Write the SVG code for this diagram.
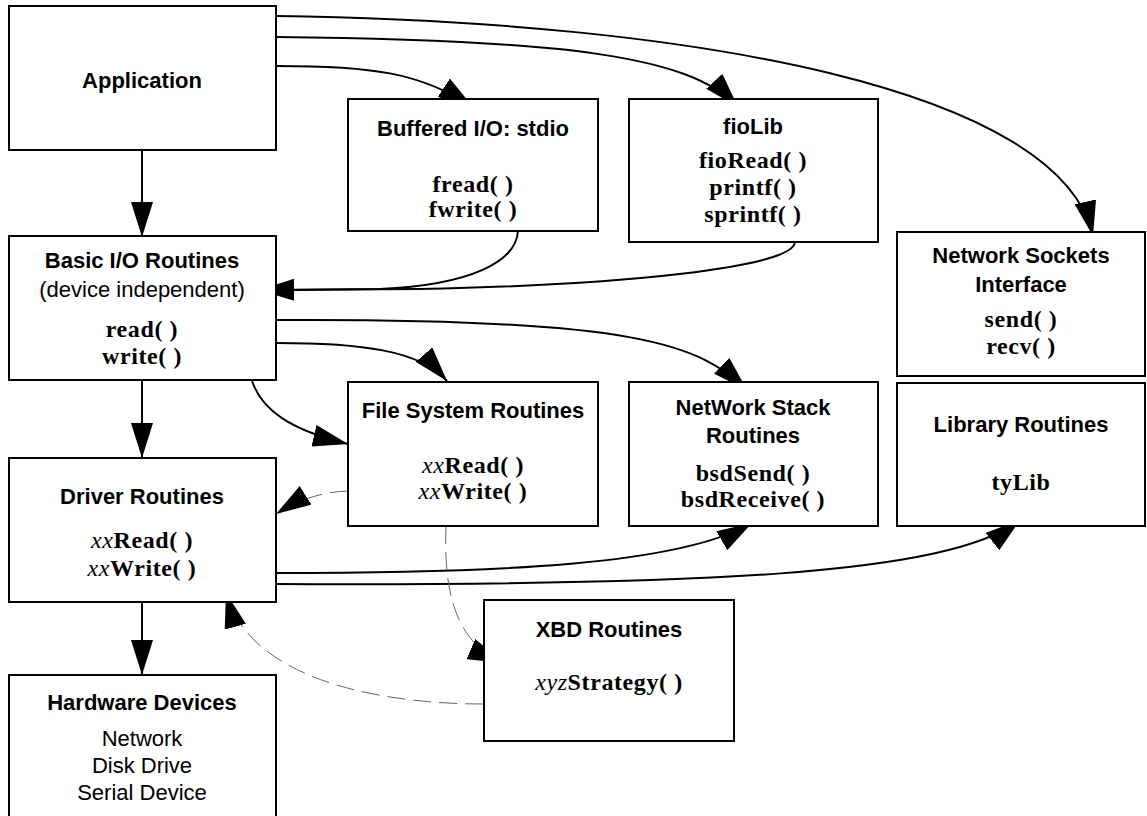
<svg xmlns="http://www.w3.org/2000/svg" width="1147" height="816" viewBox="0 0 1147 816">
  <style>
    .box { fill: #ffffff; stroke: #000000; stroke-width: 2; }
    .hd { font-family: "Liberation Sans", Arial, sans-serif; font-weight: bold; font-size: 22px; text-anchor: middle; fill: #000; }
    .rg { font-family: "Liberation Sans", Arial, sans-serif; font-size: 22px; text-anchor: middle; fill: #000; }
    .fn { font-family: "Liberation Serif", "Times New Roman", serif; font-weight: bold; font-size: 24px; letter-spacing: 0.6px; text-anchor: middle; fill: #000; }
    .it { font-style: italic; font-weight: normal; }
    .link { fill: none; stroke: #000000; stroke-width: 2; marker-end: url(#head); }
    .dash { fill: none; stroke: #666666; stroke-width: 1; stroke-dasharray: 18 8; marker-end: url(#head); }
  </style>
  <defs>
    <marker id="head" markerUnits="userSpaceOnUse" markerWidth="36" markerHeight="22" refX="35" refY="11" orient="auto">
      <path d="M0,0 L35,11 L0,22 z" fill="#000000"/>
    </marker>
  </defs>

  <rect width="1147" height="816" fill="#ffffff"/>

  <g id="connectors">
    <!-- vertical stack -->
    <path class="link" d="M142,150 L142,237"/>
    <path class="link" d="M142,380 L142,458"/>
    <path class="link" d="M142,602 L142,675"/>
    <!-- Application to libraries -->
    <path class="link" d="M276,66 C370,66 420,72 473,107"/>
    <path class="link" d="M276,37 C560,40 690,55 738,107"/>
    <path class="link" d="M276,16 C700,22 1060,90 1093,236"/>
    <!-- stdio and fioLib back into Basic I/O -->
    <path fill="none" stroke="#000" stroke-width="2" d="M518,231 C516,262 470,285 380,289 L290,290"/>
    <path class="link" d="M795,242 C793,268 620,285 420,289 L259,290"/>
    <!-- Basic I/O outward -->
    <path class="link" d="M276,320 C640,318 700,345 747,390"/>
    <path class="link" d="M276,343 C360,343 420,350 447,381"/>
    <path class="link" d="M252,381 C262,410 290,430 348,444"/>
    <!-- Driver outward -->
    <path class="link" d="M276,573 C500,573 680,565 752,523"/>
    <path class="link" d="M276,584 C700,586 950,575 1020,520"/>
    <!-- dashed block paths -->
    <path class="dash" d="M348,491 C318,492 295,502 276,514"/>
    <path class="dash" d="M446,526 C444,580 450,640 503,663"/>
    <path class="dash" d="M483,704 C380,704 250,680 226,593"/>
  </g>

  <g id="application">
    <rect class="box" x="9" y="6" width="267" height="144"/>
    <text class="hd" x="142" y="88">Application</text>
  </g>

  <g id="stdio">
    <rect class="box" x="348" y="99" width="250" height="132"/>
    <text class="hd" x="473" y="136">Buffered I/O: stdio</text>
    <text class="fn" x="473" y="192">fread( )</text>
    <text class="fn" x="473" y="217">fwrite( )</text>
  </g>

  <g id="fiolib">
    <rect class="box" x="629" y="99" width="249" height="143"/>
    <text class="hd" x="753" y="134">fioLib</text>
    <text class="fn" x="753" y="168">fioRead( )</text>
    <text class="fn" x="753" y="195">printf( )</text>
    <text class="fn" x="753" y="222">sprintf( )</text>
  </g>

  <g id="sockets">
    <rect class="box" x="897" y="232" width="248" height="144"/>
    <text class="hd" x="1021" y="263">Network Sockets</text>
    <text class="hd" x="1021" y="292">Interface</text>
    <text class="fn" x="1021" y="327">send( )</text>
    <text class="fn" x="1021" y="354">recv( )</text>
  </g>

  <g id="basic-io">
    <rect class="box" x="9" y="236" width="267" height="144"/>
    <text class="hd" x="142" y="268">Basic I/O Routines</text>
    <text class="rg" x="142" y="297">(device independent)</text>
    <text class="fn" x="142" y="337">read( )</text>
    <text class="fn" x="142" y="364">write( )</text>
  </g>

  <g id="file-system">
    <rect class="box" x="348" y="382" width="250" height="144"/>
    <text class="hd" x="473" y="418">File System Routines</text>
    <text class="fn" x="473" y="473"><tspan class="it">xx</tspan>Read( )</text>
    <text class="fn" x="473" y="499"><tspan class="it">xx</tspan>Write( )</text>
  </g>

  <g id="network-stack">
    <rect class="box" x="629" y="382" width="249" height="144"/>
    <text class="hd" x="753" y="415">NetWork Stack</text>
    <text class="hd" x="753" y="443">Routines</text>
    <text class="fn" x="753" y="481">bsdSend( )</text>
    <text class="fn" x="753" y="507">bsdReceive( )</text>
  </g>

  <g id="library">
    <rect class="box" x="897" y="383" width="248" height="143"/>
    <text class="hd" x="1021" y="432">Library Routines</text>
    <text class="fn" x="1021" y="490">tyLib</text>
  </g>

  <g id="driver">
    <rect class="box" x="9" y="458" width="267" height="144"/>
    <text class="hd" x="142" y="504">Driver Routines</text>
    <text class="fn" x="142" y="548"><tspan class="it">xx</tspan>Read( )</text>
    <text class="fn" x="142" y="576"><tspan class="it">xx</tspan>Write( )</text>
  </g>

  <g id="xbd">
    <rect class="box" x="484" y="600" width="250" height="141"/>
    <text class="hd" x="609" y="637">XBD Routines</text>
    <text class="fn" x="609" y="690"><tspan class="it">xyz</tspan>Strategy( )</text>
  </g>

  <g id="hardware">
    <rect class="box" x="9" y="675" width="267" height="160"/>
    <text class="hd" x="142" y="710">Hardware Devices</text>
    <text class="rg" x="142" y="746">Network</text>
    <text class="rg" x="142" y="773">Disk Drive</text>
    <text class="rg" x="142" y="800">Serial Device</text>
  </g>
</svg>
